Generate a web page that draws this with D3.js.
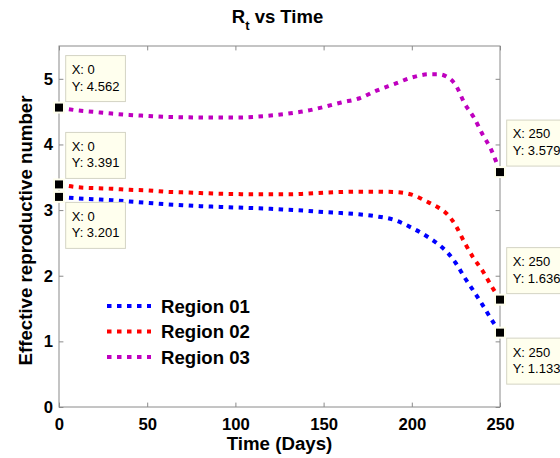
<!DOCTYPE html>
<html>
<head>
<meta charset="utf-8">
<script src="https://cdn.jsdelivr.net/npm/d3@7"></script>
<style>
  html, body { margin: 0; padding: 0; background: #fff; }
  svg { display: block; }
  text { font-family: Arial, "Liberation Sans", sans-serif; }
</style>
</head>
<body>
<script>
// Days at which each region's effective reproductive number is sampled
const days = [0, 10, 20, 30, 40, 50, 60, 70, 80, 90, 100, 110, 120, 130, 140,
              150, 160, 170, 180, 190, 200, 210, 215, 220, 225, 230, 235, 240, 245, 250];

const region01 = [3.201, 3.18, 3.165, 3.15, 3.13, 3.11, 3.09, 3.075, 3.06, 3.05, 3.04,
                  3.03, 3.02, 3.005, 2.99, 2.97, 2.955, 2.935, 2.905, 2.85, 2.73, 2.575,
                  2.48, 2.36, 2.19, 1.97, 1.77, 1.56, 1.34, 1.133];
const region02 = [3.391, 3.35, 3.335, 3.325, 3.31, 3.30, 3.28, 3.27, 3.26, 3.25, 3.245,
                  3.24, 3.24, 3.24, 3.25, 3.265, 3.275, 3.28, 3.28, 3.275, 3.235, 3.11,
                  3.04, 2.94, 2.76, 2.50, 2.27, 2.08, 1.85, 1.636];
const region03 = [4.562, 4.52, 4.495, 4.47, 4.45, 4.435, 4.42, 4.415, 4.41, 4.41, 4.41,
                  4.42, 4.44, 4.47, 4.51, 4.57, 4.64, 4.70, 4.82, 4.92, 5.02, 5.07,
                  5.07, 5.03, 4.90, 4.62, 4.42, 4.16, 3.92, 3.579];

const seriesNames = ["Region 01", "Region 02", "Region 03"];
const seriesColors = ["#0000ff", "#ff0000", "#bf00bf"];
const seriesValues = [region01, region02, region03];

const xTicks = [0, 50, 100, 150, 200, 250];
const yTicks = [0, 1, 2, 3, 4, 5];

// Data tips pinned on the first and last sample of each region
const tipIndex = [0, 0, 0, 29, 29, 29];
const tipSeries = [2, 1, 0, 2, 1, 0];
const tipSide = ["up", "up", "down", "up", "up", "down"];

const W = 560, H = 458;
const plot = { left: 59, right: 500, top: 46, bottom: 407 };

const svg = d3.select("body").append("svg")
  .attr("width", W).attr("height", H);

const x = d3.scaleLinear().domain([0, 250]).range([plot.left, plot.right]);
const y = d3.scaleLinear().domain([0, 5.5]).range([plot.bottom, plot.top]);

const axisColor = "#8a8a8a";
const tickLen = 4.4;

// Axis box
svg.append("rect")
  .attr("x", plot.left).attr("y", plot.top)
  .attr("width", plot.right - plot.left).attr("height", plot.bottom - plot.top)
  .attr("fill", "none").attr("stroke", axisColor).attr("stroke-width", 1);

function styleAxis(g, showLabels) {
  g.select(".domain").remove();
  g.selectAll(".tick line").attr("stroke", axisColor).attr("stroke-width", 1);
  g.selectAll(".tick text")
    .attr("fill", "#000")
    .style("font-weight", "bold")
    .style("font-size", "16.7px")
    .style("font-family", "Arial, 'Liberation Sans', sans-serif")
    .attr("display", showLabels ? null : "none");
}

svg.append("g").attr("transform", `translate(0,${plot.bottom})`)
  .call(d3.axisBottom(x).tickValues(xTicks).tickFormat(d3.format("d"))
    .tickSizeInner(-tickLen).tickSizeOuter(0).tickPadding(11))
  .call(g => styleAxis(g, true));
svg.append("g").attr("transform", `translate(0,${plot.top})`)
  .call(d3.axisTop(x).tickValues(xTicks).tickSizeInner(-tickLen).tickSizeOuter(0))
  .call(g => styleAxis(g, false));
svg.append("g").attr("transform", `translate(${plot.left},0)`)
  .call(d3.axisLeft(y).tickValues(yTicks).tickFormat(d3.format("d"))
    .tickSizeInner(-tickLen).tickSizeOuter(0).tickPadding(6))
  .call(g => styleAxis(g, true));
svg.append("g").attr("transform", `translate(${plot.right},0)`)
  .call(d3.axisRight(y).tickValues(yTicks).tickSizeInner(-tickLen).tickSizeOuter(0))
  .call(g => styleAxis(g, false));

// Title with subscript t
const title = svg.append("text")
  .attr("x", (plot.left + plot.right) / 2 - 2).attr("y", 23)
  .attr("text-anchor", "middle")
  .style("font-weight", "bold").style("font-size", "18.5px");
title.append("tspan").text("R");
title.append("tspan").attr("dy", 7).style("font-size", "13px").text("t");
title.append("tspan").attr("dy", -7).text(" vs Time");

// Axis labels
svg.append("text")
  .attr("x", (plot.left + plot.right) / 2).attr("y", 450)
  .attr("text-anchor", "middle")
  .style("font-weight", "bold").style("font-size", "18.7px")
  .text("Time (Days)");

svg.append("text")
  .attr("transform", `translate(32,${(plot.top + plot.bottom) / 2 + 4}) rotate(-90)`)
  .attr("text-anchor", "middle")
  .style("font-weight", "bold").style("font-size", "18.7px")
  .text("Effective reproductive number");

// Dotted series lines
const line = d3.line()
  .x((d, i) => x(days[i]))
  .y(d => y(d))
  .curve(d3.curveMonotoneX);

svg.append("defs").append("clipPath").attr("id", "plot-clip")
  .append("rect")
  .attr("x", plot.left).attr("y", plot.top)
  .attr("width", plot.right - plot.left).attr("height", plot.bottom - plot.top);

const linesG = svg.append("g").attr("clip-path", "url(#plot-clip)");
seriesValues.forEach((vals, k) => {
  linesG.append("path")
    .datum(vals)
    .attr("d", line)
    .attr("fill", "none")
    .attr("stroke", seriesColors[k])
    .attr("stroke-width", 4)
    .attr("stroke-dasharray", "4.5 5.5");
});

// Legend
const legend = svg.append("g");
seriesNames.forEach((name, k) => {
  const ly = 306 + k * 25.5;
  legend.append("line")
    .attr("x1", 107).attr("x2", 151).attr("y1", ly).attr("y2", ly)
    .attr("stroke", seriesColors[k]).attr("stroke-width", 4)
    .attr("stroke-dasharray", "4.5 5.5");
  legend.append("text")
    .attr("x", 161).attr("y", ly + 6.7)
    .style("font-weight", "bold").style("font-size", "18.6px")
    .text(name);
});

// Data tips
const tipFill = "rgb(255,255,238)";
const tipsG = svg.append("g");
tipIndex.forEach((idx, t) => {
  const s = tipSeries[t];
  const px = x(days[idx]);
  const py = y(seriesValues[s][idx]);
  const g = tipsG.append("g");

  const boxH = 46;
  const boxX = px + 6.7;
  const boxY = tipSide[t] === "up" ? py - 6 - boxH : py + 5.5;

  const box = g.append("rect")
    .attr("x", boxX).attr("y", boxY).attr("height", boxH)
    .attr("fill", tipFill).attr("stroke", "#d4d4c4").attr("stroke-width", 1);

  const t1 = g.append("text")
    .attr("x", boxX + 6).attr("y", boxY + 18.4)
    .style("font-size", "13px").text("X: " + days[idx]);
  const t2 = g.append("text")
    .attr("x", boxX + 6).attr("y", boxY + 35)
    .style("font-size", "13px").text("Y: " + d3.format(".3f")(seriesValues[s][idx]));
  const wText = Math.max(t1.node().getComputedTextLength(), t2.node().getComputedTextLength());
  box.attr("width", wText + 12);

  g.append("rect")
    .attr("x", px - 5).attr("y", py - 5)
    .attr("width", 10).attr("height", 10)
    .attr("fill", "#000").attr("stroke", tipFill).attr("stroke-width", 2);
});
</script>
</body>
</html>
